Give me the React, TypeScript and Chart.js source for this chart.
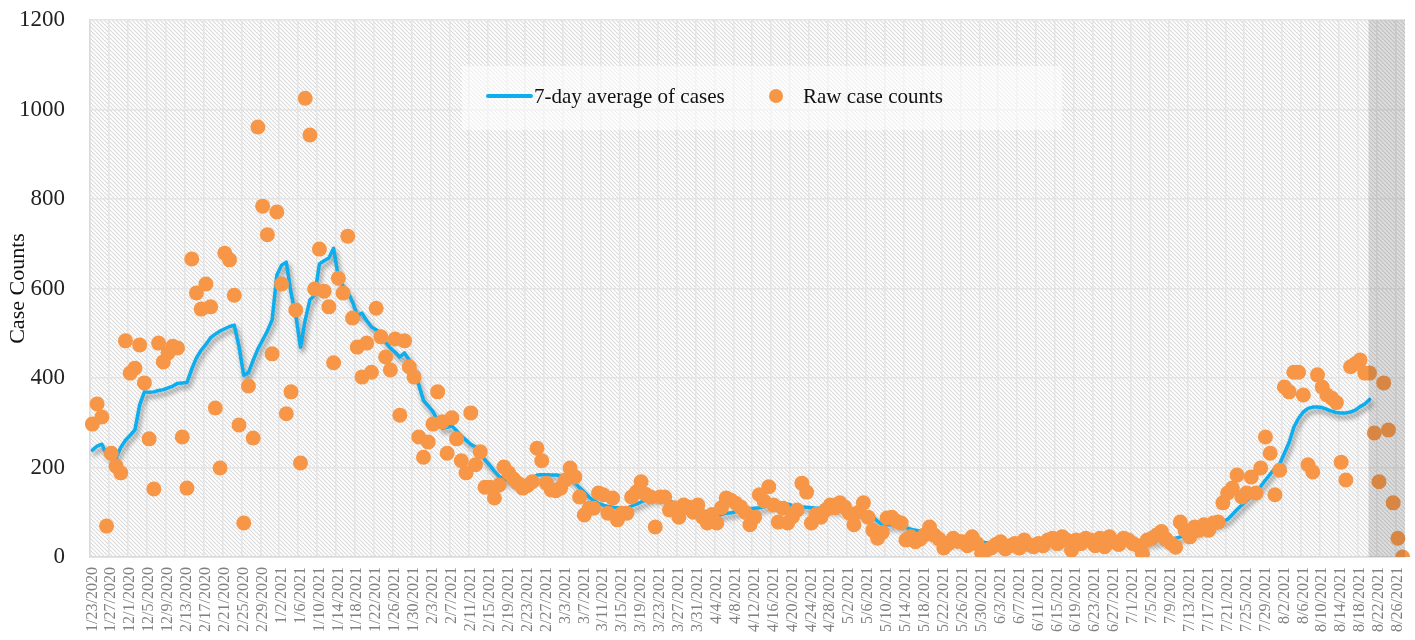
import React, { useEffect, useRef } from 'react';
import { Chart, registerables } from 'chart.js';

Chart.register(...registerables);

// Visible x tick labels (one every 4 days)
const tickLabels = [
  '1/23/2020', '1/27/2020', '12/1/2020', '12/5/2020', '12/9/2020', '2/13/2020', '2/17/2020', '2/21/2020', '2/25/2020', '2/29/2020',
  '1/2/2021', '1/6/2021', '1/10/2021', '1/14/2021', '1/18/2021', '1/22/2021', '1/26/2021', '1/30/2021',
  '2/3/2021', '2/7/2021', '2/11/2021', '2/15/2021', '2/19/2021', '2/23/2021', '2/27/2021',
  '3/3/2021', '3/7/2021', '3/11/2021', '3/15/2021', '3/19/2021', '3/23/2021', '3/27/2021', '3/31/2021',
  '4/4/2021', '4/8/2021', '4/12/2021', '4/16/2021', '4/20/2021', '4/24/2021', '4/28/2021',
  '5/2/2021', '5/6/2021', '5/10/2021', '5/14/2021', '5/18/2021', '5/22/2021', '5/26/2021', '5/30/2021',
  '6/3/2021', '6/7/2021', '6/11/2021', '6/15/2021', '6/19/2021', '6/23/2021', '6/27/2021',
  '7/1/2021', '7/5/2021', '7/9/2021', '7/13/2021', '7/17/2021', '7/21/2021', '7/25/2021', '7/29/2021',
  '8/2/2021', '8/6/2021', '8/10/2021', '8/14/2021', '8/18/2021', '8/22/2021', '8/26/2021',
];

// Raw daily case counts (one per day)
const rawCounts = [
  297, 342, 313, 69, 232, 203, 188, 483, 411, 422,
  474, 389, 264, 152, 478, 436, 456, 471, 467, 268,
  154, 666, 590, 554, 610, 559, 333, 199, 679, 664,
  585, 295, 76, 382, 266, 961, 784, 720, 454, 771,
  610, 320, 369, 552, 210, 1025, 943, 599, 688, 594,
  559, 434, 623, 590, 717, 534, 469, 402, 478, 413,
  556, 492, 447, 418, 487, 317, 483, 425, 402, 268,
  223, 257, 297, 369, 302, 232, 311, 264, 215, 188,
  322, 206, 235, 156, 156, 132, 161, 201, 188, 175,
  165, 154, 160, 168, 243, 215, 165, 150, 148, 154,
  172, 199, 179, 134, 94, 109, 109, 143, 139, 98,
  132, 83, 98, 98, 134, 145, 168, 140, 134, 67,
  134, 134, 105, 110, 89, 116, 112, 100, 116, 89,
  76, 95, 76, 110, 132, 127, 120, 112, 100, 72,
  89, 139, 125, 157, 116, 78, 109, 76, 90, 105,
  165, 145, 76, 95, 89, 105, 116, 110, 121, 112,
  98, 72, 100, 121, 89, 60, 42, 55, 87, 89,
  80, 76, 38, 45, 34, 40, 50, 67, 49, 40,
  20, 30, 42, 35, 34, 25, 45, 30, 9, 15,
  20, 28, 34, 18, 25, 30, 20, 38, 28, 23,
  30, 25, 38, 42, 30, 45, 38, 15, 38, 30,
  42, 38, 25, 42, 23, 45, 34, 28, 42, 38,
  30, 25, 8, 38, 42, 49, 57, 40, 31, 22,
  78, 60, 45, 67, 60, 72, 60, 76, 78, 121,
  143, 154, 183, 134, 143, 179, 143, 199, 268, 232,
  139, 194, 380, 369, 413, 413, 362, 206, 190, 407,
  380, 362, 355, 345, 212, 172, 425, 432, 440, 411,
  411, 277, 168, 389, 284, 121, 42, 0,
];

// 7-day average of cases
const avgCounts = [
  239, 248, 252, 230, 225, 221, 245, 261, 272, 284,
  340, 369, 368, 369, 372, 374, 378, 382, 388, 389,
  390, 420, 445, 462, 475, 490, 498, 505, 510, 515,
  518, 470, 406, 412, 440, 465, 485, 505, 530, 630,
  652, 659, 590, 540, 469, 530, 575, 585, 655, 662,
  668, 690, 625, 605, 592, 570, 540, 545, 528, 514,
  508, 501, 480, 467, 458, 447, 456, 440, 422, 385,
  350, 338, 325, 305, 288, 290, 293, 282, 270, 261,
  252, 246, 232, 217, 205, 192, 180, 174, 170, 165,
  163, 165, 170, 176, 183, 184, 184, 183, 183, 182,
  178, 174, 166, 155, 145, 134, 126, 120, 116, 113,
  111, 110, 109, 109, 114, 118, 123, 127, 130, 132,
  132, 129, 125, 121, 118, 115, 112, 110, 109, 104,
  99, 96, 94, 95, 98, 99, 101, 104, 106, 108,
  109, 110, 112, 115, 118, 120, 121, 118, 115, 113,
  112, 111, 110, 109, 109, 108, 108, 107, 106, 106,
  105, 104, 102, 100, 98, 90, 80, 72, 72, 72,
  72, 70, 66, 62, 60, 58, 55, 52, 49, 46,
  42, 38, 35, 34, 33, 33, 34, 34, 33, 32,
  30, 30, 30, 28, 28, 27, 27, 28, 28, 28,
  29, 30, 31, 32, 33, 34, 35, 34, 34, 35,
  36, 36, 35, 35, 35, 36, 36, 36, 37, 37,
  36, 35, 33, 34, 35, 36, 38, 38, 39, 42,
  45, 48, 52, 56, 60, 64, 68, 72, 76, 80,
  84, 95, 106, 116, 126, 135, 143, 158, 172, 185,
  198, 208, 232, 256, 290, 310, 324, 332, 335, 335,
  334, 330, 326, 323, 322, 322, 324, 328, 336, 342,
  352,
];

const seriesNames = ['7-day average of cases', 'Raw case counts'];
const yAxisTitle = 'Case Counts';
const shadedStartIndex = 270;

const FONT = "'Liberation Serif', 'Times New Roman', serif";
const BLUE = '#0DAEEE';
const ORANGE = '#F79646';

function makeHatch(ctx: CanvasRenderingContext2D) {
  const c = document.createElement('canvas');
  c.width = 8;
  c.height = 8;
  const g = c.getContext('2d')!;
  g.fillStyle = '#ffffff';
  g.fillRect(0, 0, 8, 8);
  g.strokeStyle = '#dadada';
  g.lineWidth = 1.1;
  for (let k = -8; k <= 8; k += 4) {
    g.beginPath();
    g.moveTo(k, 0);
    g.lineTo(k + 8, 8);
    g.stroke();
  }
  return ctx.createPattern(c, 'repeat');
}

export default function App() {
  const ref = useRef<HTMLCanvasElement>(null);

  useEffect(() => {
    const canvas = ref.current!;
    const ctx0 = canvas.getContext('2d')!;
    const hatch = makeHatch(ctx0);
    const labels = rawCounts.map((_, i) => (i % 4 === 0 ? tickLabels[i / 4] ?? '' : ''));

    const customPlugin = {
      id: 'customDecor',
      beforeDraw(chart: any) {
        const { ctx, chartArea: a } = chart;
        ctx.save();
        ctx.fillStyle = hatch as any;
        ctx.fillRect(a.left, a.top, a.right - a.left, a.bottom - a.top);
        ctx.restore();
      },
      beforeDatasetDraw(chart: any, args: any) {
        if (args.index === 0) {
          const ctx = chart.ctx;
          ctx.save();
          ctx.shadowColor = 'rgba(0,0,0,0.42)';
          ctx.shadowBlur = 5;
          ctx.shadowOffsetX = 2;
          ctx.shadowOffsetY = 4;
        }
      },
      afterDatasetDraw(chart: any, args: any) {
        if (args.index === 0) chart.ctx.restore();
      },
      afterDatasetsDraw(chart: any) {
        const { ctx, chartArea: a, scales } = chart;
        const xs = scales.x;
        const x0 = xs.getPixelForValue(shadedStartIndex) - 1;
        ctx.save();
        ctx.fillStyle = 'rgba(60,60,60,0.17)';
        ctx.fillRect(x0, a.top, a.right - x0, a.bottom - a.top);
        ctx.restore();
      },
      afterDraw(chart: any) {
        const ctx = chart.ctx;
        ctx.save();
        ctx.fillStyle = 'rgba(255,255,255,0.55)';
        ctx.fillRect(462, 66, 600, 64);
        ctx.strokeStyle = BLUE;
        ctx.lineWidth = 4;
        ctx.lineCap = 'round';
        ctx.beginPath();
        ctx.moveTo(488, 96);
        ctx.lineTo(531, 96);
        ctx.stroke();
        ctx.font = `21px ${FONT}`;
        ctx.fillStyle = '#111111';
        ctx.textBaseline = 'middle';
        ctx.textAlign = 'left';
        ctx.fillText(seriesNames[0], 534, 97);
        ctx.fillStyle = ORANGE;
        ctx.beginPath();
        ctx.arc(776, 96, 7, 0, Math.PI * 2);
        ctx.fill();
        ctx.fillStyle = '#111111';
        ctx.fillText(seriesNames[1], 803, 97);
        ctx.restore();
      },
    };

    const chart = new Chart(canvas, {
      type: 'line',
      data: {
        labels,
        datasets: [
          {
            label: seriesNames[0],
            data: avgCounts,
            borderColor: BLUE,
            borderWidth: 3.5,
            pointRadius: 0,
            tension: 0,
            borderJoinStyle: 'round',
            borderCapStyle: 'round',
            fill: false,
            order: 1,
          },
          {
            label: seriesNames[1],
            data: rawCounts,
            showLine: false,
            pointRadius: 7.5,
            pointBorderWidth: 0,
            pointBackgroundColor: ORANGE,
            pointBorderColor: ORANGE,
            backgroundColor: ORANGE,
            borderColor: ORANGE,
            order: 0,
          },
        ],
      },
      options: {
        responsive: false,
        animation: false,
        layout: { padding: { top: 20, right: 10, bottom: 0, left: 0 } },
        plugins: {
          legend: { display: false },
          tooltip: { enabled: false },
          title: { display: false },
        },
        scales: {
          x: {
            offset: true,
            grid: {
              offset: true,
              drawTicks: false,
              lineWidth: 1.5,
              color: (c: any) => (c.index % 4 === 0 ? '#e4e4e4' : 'rgba(0,0,0,0)'),
            },
            border: { display: true, color: '#d9d9d9', width: 1.5 },
            ticks: {
              autoSkip: false,
              maxRotation: 90,
              minRotation: 90,
              padding: 10,
              color: '#808080',
              font: { family: FONT, size: 16 },
            },
            afterFit(scale: any) {
              scale.height = 83;
              scale.paddingLeft = 0;
              scale.paddingRight = 0;
            },
          },
          y: {
            min: 0,
            max: 1200,
            ticks: {
              stepSize: 200,
              padding: 25,
              color: '#222222',
              font: { family: FONT, size: 23 },
              callback: (v: any) => String(v),
            },
            grid: { drawTicks: false, color: '#e4e4e4', lineWidth: 1.5 },
            border: { display: true, color: '#dcdcdc', width: 1.5 },
            title: {
              display: true,
              text: yAxisTitle,
              color: '#111111',
              font: { family: FONT, size: 22 },
              padding: { top: 5, bottom: 0 },
            },
            afterFit(scale: any) {
              scale.width = 90;
              scale.paddingTop = 0;
              scale.paddingBottom = 0;
            },
          },
        },
      },
      plugins: [customPlugin],
    });

    return () => chart.destroy();
  }, []);

  return (
    <div style={{ position: 'absolute', left: 0, top: 0, width: 1415, height: 640, background: '#ffffff' }}>
      <canvas ref={ref} width={1415} height={640} style={{ width: 1415, height: 640, display: 'block' }} />
    </div>
  );
}
